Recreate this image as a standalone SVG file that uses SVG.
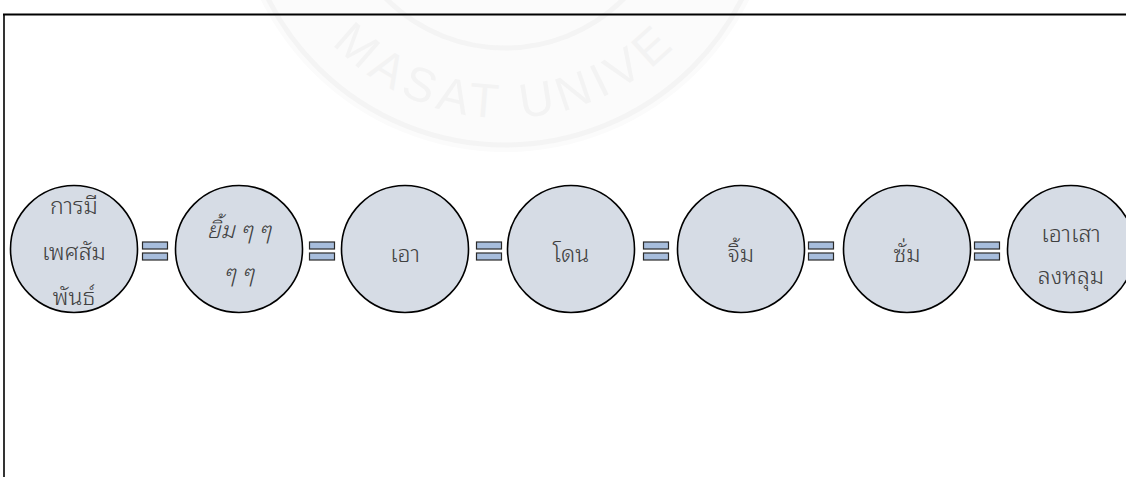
<svg xmlns="http://www.w3.org/2000/svg" width="1126" height="477" viewBox="0 0 1126 477">
<style>
.node{fill:#d6dce5;stroke:#000;stroke-width:1.6}
.lbl{font-family:"Noto Sans Thai Looped","Noto Sans Thai","Tahoma","Noto Sans","DejaVu Sans",sans-serif;font-size:23px;font-weight:300;fill:#404040;text-anchor:middle;dominant-baseline:central}
.it{font-style:italic}
.bar{fill:#a7bddc;stroke:#2a2a2a;stroke-width:1.2}
.wm{fill:none;stroke:#f4f4f4}
.wmt{font-family:"Liberation Sans",Arial,sans-serif;font-size:48px;fill:#f3f3f3;letter-spacing:6px}
</style>
<defs>
<g id="eq"><rect class="bar" x="-12.5" y="-7" width="25" height="7"/><rect class="bar" x="-12.5" y="4" width="25" height="7"/></g>
<path id="wmArc" d="M 267 -120 A 238 238 0 0 0 743 -120"/>
</defs>
<rect width="1126" height="477" fill="#fff"/>
<g id="watermark">
<circle cx="505" cy="-120" r="272" fill="#fbfbfb"/>
<circle cx="505" cy="-120" r="265" class="wm" stroke-width="5"/>
<circle cx="505" cy="-120" r="168" fill="#fff" class="wm" stroke-width="5"/>
<text class="wmt"><textPath href="#wmArc" startOffset="50%" text-anchor="middle">MASAT UNIVE</textPath></text>
</g>
<g id="frame" fill="none" stroke="#000">
<line x1="3" y1="14.5" x2="1126" y2="14.5" stroke-width="2.2"/>
<line x1="4" y1="14" x2="4" y2="477" stroke-width="1.6"/>
</g>
<g id="connectors">
<use href="#eq" x="155" y="249"/>
<use href="#eq" x="322" y="249"/>
<use href="#eq" x="489" y="249"/>
<use href="#eq" x="656" y="249"/>
<use href="#eq" x="821" y="249"/>
<use href="#eq" x="987" y="249"/>
</g>
<g id="n1"><circle class="node" cx="74" cy="249" r="63.5"/>
<text class="lbl" x="74" y="203">การมี</text><text class="lbl" x="74" y="249">เพศสัม</text><text class="lbl" x="74" y="294">พันธ์</text></g>
<g id="n2"><circle class="node" cx="239" cy="249" r="63.5"/>
<text class="lbl it" x="239" y="227">ยิ้ม ๆ ๆ</text><text class="lbl it" x="239" y="270">ๆ ๆ</text></g>
<g id="n3"><circle class="node" cx="405" cy="249" r="63.5"/><text class="lbl" x="405" y="251">เอา</text></g>
<g id="n4"><circle class="node" cx="571" cy="249" r="63.5"/><text class="lbl" x="571" y="251">โดน</text></g>
<g id="n5"><circle class="node" cx="741" cy="249" r="63.5"/><text class="lbl" x="741" y="251">จิ้ม</text></g>
<g id="n6"><circle class="node" cx="907" cy="249" r="63.5"/><text class="lbl" x="907" y="251">ซั่ม</text></g>
<g id="n7"><circle class="node" cx="1071" cy="249" r="63.5"/>
<text class="lbl" x="1071" y="231">เอาเสา</text><text class="lbl" x="1071" y="273">ลงหลุม</text></g>
</svg>
